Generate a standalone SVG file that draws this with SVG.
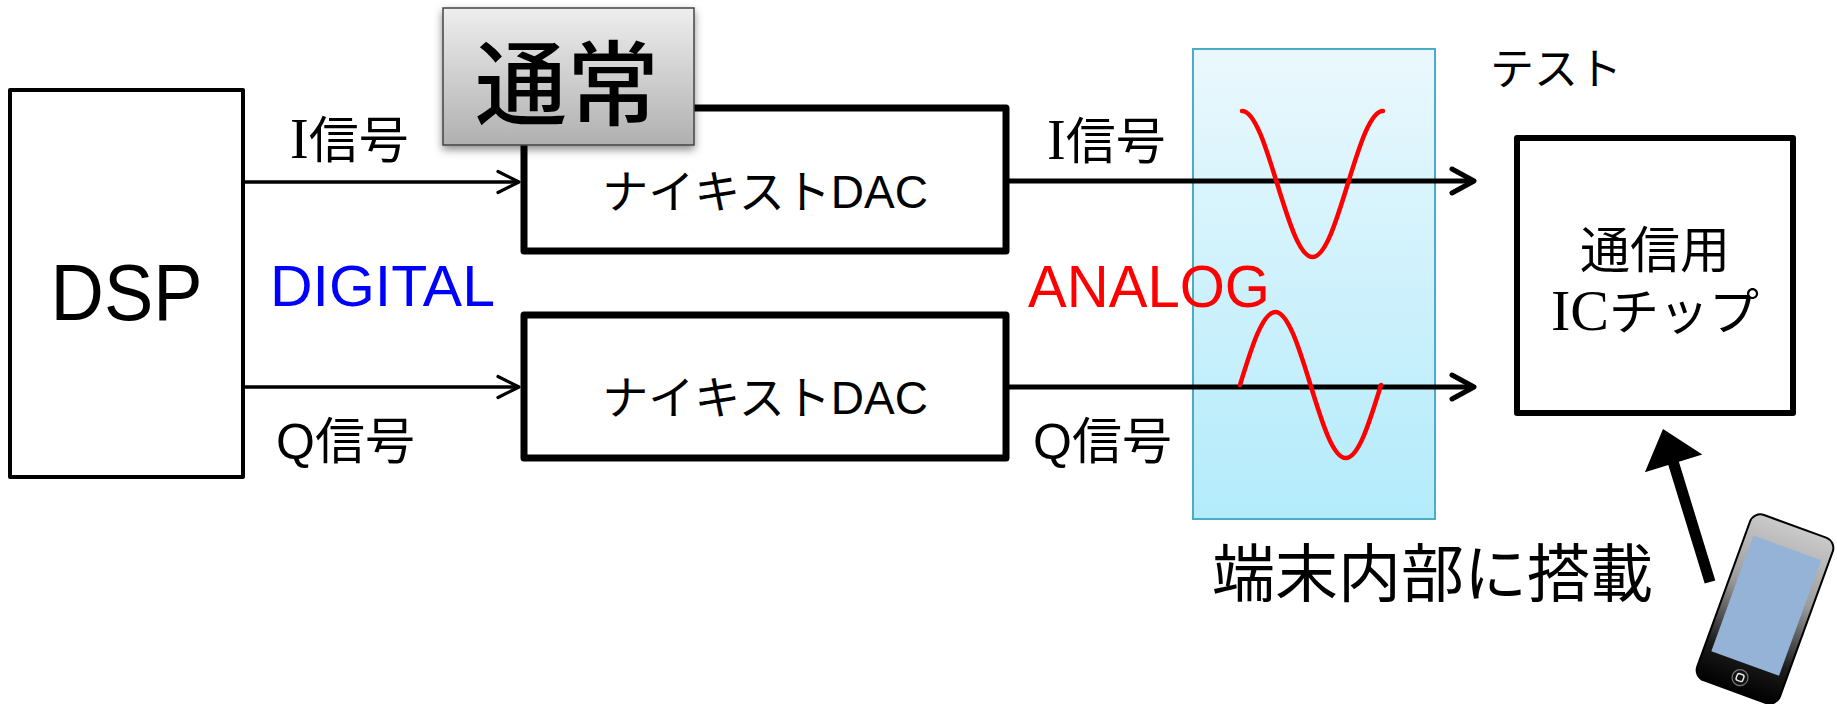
<svg xmlns="http://www.w3.org/2000/svg" width="1837" height="704" viewBox="0 0 1837 704">
  <style>
    .box { fill: #fff; stroke: #000; stroke-linejoin: round; }
    .thin { stroke-width: 4; }
    .thick { stroke-width: 7; }
    .jp { font-family: "Liberation Sans", "Noto Sans CJK JP", sans-serif; fill: #000; }
    .serif { font-family: "Liberation Serif", "Noto Sans CJK JP", serif; }
    .wave { fill: none; stroke: #ff0000; stroke-width: 4.5; stroke-linecap: round; }
    .link-thin { stroke: #000; stroke-width: 3.5; fill: none; }
    .link-bold { stroke: #000; stroke-width: 5; fill: none; }
  </style>
  <defs>
    <linearGradient id="gradTag" x1="0" y1="0" x2="0" y2="1">
      <stop offset="0" stop-color="#eeeeee"/>
      <stop offset="1" stop-color="#b0b0b0"/>
    </linearGradient>
    <linearGradient id="gradZone" x1="0" y1="0" x2="0" y2="1">
      <stop offset="0" stop-color="#eaf8fd"/>
      <stop offset="1" stop-color="#b3ebfb"/>
    </linearGradient>
    <linearGradient id="gradPhone" x1="0" y1="0" x2="0" y2="1">
      <stop offset="0" stop-color="#cacaca"/>
      <stop offset="0.4" stop-color="#9c9c9c"/>
      <stop offset="0.78" stop-color="#1c1c1c"/>
      <stop offset="1" stop-color="#000000"/>
    </linearGradient>
    <filter id="shadow" x="-10%" y="-10%" width="120%" height="135%">
      <feDropShadow dx="0" dy="4" stdDeviation="4" flood-color="#000" flood-opacity="0.45"/>
    </filter>
    <marker id="headThin" markerUnits="userSpaceOnUse" viewBox="0 0 26 26" markerWidth="26" markerHeight="26" refX="24" refY="13" orient="auto" overflow="visible">
      <path d="M3,2.5 L24,13 L3,23.5" fill="none" stroke="#000" stroke-width="3.2" stroke-linecap="round" stroke-linejoin="round"/>
    </marker>
    <marker id="headBold" markerUnits="userSpaceOnUse" viewBox="0 0 28 28" markerWidth="28" markerHeight="28" refX="25" refY="14" orient="auto" overflow="visible">
      <path d="M3,2 L25,14 L3,26" fill="none" stroke="#000" stroke-width="5" stroke-linecap="round" stroke-linejoin="round"/>
    </marker>
  </defs>

  <rect width="1837" height="704" fill="#fff"/>

  <!-- analog region on the board -->
  <g id="analog-zone">
    <rect x="1193" y="49" width="242" height="470" fill="url(#gradZone)" stroke="#4bacc6" stroke-width="2"/>
  </g>

  <g id="dsp">
    <rect class="box thin" x="10" y="90" width="233" height="387"/>
    <text class="jp" x="126.5" y="320" font-size="80" text-anchor="middle" textLength="152" lengthAdjust="spacingAndGlyphs">DSP</text>
  </g>

  <g id="dac-i">
    <rect class="box thick" x="524" y="108" width="482" height="143"/>
    <text class="jp" x="765" y="208" font-size="46" text-anchor="middle">ナイキストDAC</text>
  </g>

  <g id="dac-q">
    <rect class="box thick" x="524" y="315" width="482" height="143"/>
    <text class="jp" x="765" y="414" font-size="46" text-anchor="middle">ナイキストDAC</text>
  </g>

  <g id="tag-normal">
    <rect x="443" y="8" width="251" height="137" fill="url(#gradTag)" stroke="#444" stroke-width="1.5" filter="url(#shadow)"/>
    <text class="jp" x="567" y="118" font-size="92" font-weight="500" text-anchor="middle">通常</text>
  </g>

  <g id="ic-chip">
    <rect class="box" x="1517" y="138" width="276" height="275" stroke-width="6"/>
    <text class="jp" x="1655" y="268" font-size="50" text-anchor="middle">通信用</text>
    <text class="jp" x="1655" y="330" font-size="50" text-anchor="middle"><tspan class="serif" font-size="58">IC</tspan>チップ</text>
  </g>

  <!-- connectors -->
  <g id="connectors">
    <line class="link-thin" x1="243" y1="182" x2="519" y2="182" marker-end="url(#headThin)"/>
    <line class="link-thin" x1="243" y1="387" x2="519" y2="387" marker-end="url(#headThin)"/>
    <line class="link-bold" x1="1006" y1="181" x2="1474" y2="181" marker-end="url(#headBold)"/>
    <line class="link-bold" x1="1006" y1="387" x2="1474" y2="387" marker-end="url(#headBold)"/>
    <polygon points="1704.7,583.6 1668.3,465 1644.9,472.2 1663,429 1702.3,454.6 1678.9,461.8 1715.3,580.4" fill="#000"/>
  </g>

  <!-- analog waveforms -->
  <g id="waves">
    <path class="wave" d="M1242,111 C1254.75,111 1265.75,146.6 1277.25,184 C1288.75,221.4 1299.75,257 1312.5,257 C1325.25,257 1336.25,221.4 1347.75,184 C1359.25,146.6 1370.25,111 1383,111"/>
    <path class="wave" d="M1240,385 C1251.5,347.6 1262.5,312 1275.25,312 C1288,312 1299,347.6 1310.5,385 C1322,422.4 1333,458 1345.75,458 C1358.5,458 1369.5,422.4 1381,385"/>
  </g>

  <g id="labels">
    <text class="jp" x="290" y="158" font-size="50"><tspan class="serif" font-size="56">I</tspan>信号</text>
    <text class="jp" x="276" y="459" font-size="50">Q信号</text>
    <text class="jp" x="1047" y="159" font-size="50"><tspan class="serif" font-size="56">I</tspan>信号</text>
    <text class="jp" x="1033" y="459" font-size="50">Q信号</text>
    <text class="jp" x="270" y="306" font-size="58" style="fill:#0000ff" textLength="225" lengthAdjust="spacingAndGlyphs">DIGITAL</text>
    <text class="jp" x="1028" y="307" font-size="60" style="fill:#ff0000" textLength="242" lengthAdjust="spacingAndGlyphs">ANALOG</text>
    <text class="jp" x="1490" y="85" font-size="44">テスト</text>
    <text class="jp" x="1212" y="596" font-size="63">端末内部に搭載</text>
  </g>

  <!-- handset -->
  <g id="phone" transform="translate(1765,609) rotate(20)">
    <rect x="-44" y="-88" width="88" height="176" rx="11" fill="url(#gradPhone)" stroke="#000" stroke-width="2"/>
    <rect x="-36" y="-65" width="72" height="123" fill="#95b3d7"/>
    <circle cx="0" cy="73" r="8" fill="#111" stroke="#777" stroke-width="1.2"/>
    <rect x="-3.5" y="69.5" width="7" height="7" rx="2" fill="none" stroke="#e6e6e6" stroke-width="1.5"/>
  </g>
</svg>
